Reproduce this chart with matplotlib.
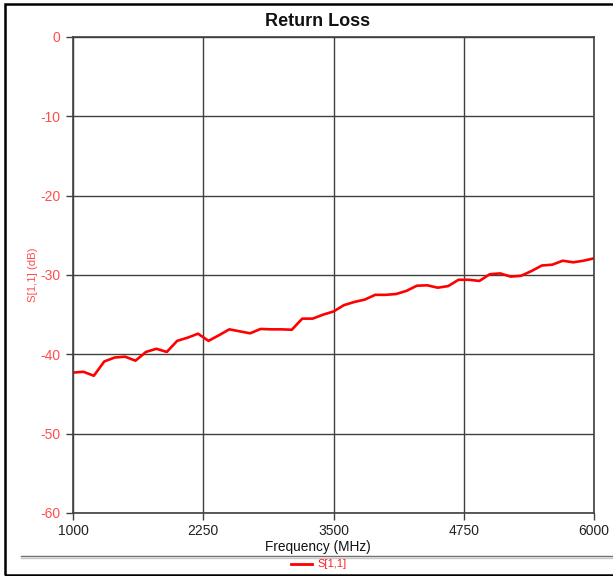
import matplotlib
matplotlib.use("Agg")
import matplotlib.pyplot as plt
from matplotlib.lines import Line2D
from matplotlib.patches import Rectangle

plt.rcParams['font.family'] = ['Liberation Sans', 'DejaVu Sans']
plt.rcParams['axes.unicode_minus'] = False

freq_mhz = list(range(1000, 6001, 100))
s11_db = [-42.3, -42.2, -42.7, -40.9, -40.4, -40.3, -40.8, -39.7, -39.3, -39.7,
          -38.3, -37.9, -37.4, -38.3, -37.6, -36.85, -37.1, -37.35, -36.8, -36.85,
          -36.85, -36.9, -35.5, -35.5, -35.0, -34.6, -33.8, -33.4, -33.1, -32.5,
          -32.5, -32.4, -32.0, -31.35, -31.3, -31.6, -31.4, -30.6, -30.6, -30.75,
          -29.9, -29.8, -30.2, -30.1, -29.5, -28.8, -28.7, -28.2, -28.4, -28.2,
          -27.9]
x_ticks = [1000, 2250, 3500, 4750, 6000]
y_ticks = [0, -10, -20, -30, -40, -50, -60]

W, H = 613, 576
fig = plt.figure(figsize=(W / 100, H / 100), dpi=100)

def fx(px):
    return px / W

def fy(py):
    return 1 - py / H

ax = fig.add_axes([fx(73), fy(513), (594 - 73) / W, (513 - 37) / H])
ax.plot(freq_mhz, s11_db, color='#ff0000', lw=1.9, solid_joinstyle='round')
ax.set_xlim(1000, 6000)
ax.set_ylim(-60, 0)
ax.set_xticks(x_ticks)
ax.set_yticks(y_ticks)
ax.grid(True, color='#404040', lw=1.0)
for s in ax.spines.values():
    s.set_color('#404040')
    s.set_linewidth(1.2)
ax.tick_params(axis='both', length=5, width=1, color='#404040', labelsize=10)
ax.tick_params(axis='y', labelcolor='#ff4d4d', pad=4)
ax.tick_params(axis='x', labelcolor='#222222', pad=3)
ax.set_axisbelow(True)

fig.text(fx(33), fy(275), 'S[1,1] (dB)', rotation=90, color='#ff4d4d',
         fontsize=8.2, ha='center', va='center')
fig.text(fx(318), fy(547), 'Frequency (MHz)', fontsize=9.8, color='#111111',
         ha='center', va='center')
fig.text(fx(318), fy(21), 'Return Loss', fontsize=13, fontweight='bold',
         ha='center', va='center', color='#111111')

# legend
fig.add_artist(Line2D([fx(291), fx(312)], [fy(564), fy(564)], color='#ff0000', lw=2.0))
fig.text(fx(317), fy(564), 'S[1,1]', color='#ff2020', fontsize=8, ha='left', va='center')

# separator line
fig.add_artist(Line2D([fx(21), fx(613)], [fy(556), fy(556)], color='#707070', lw=1.0))
fig.add_artist(Line2D([fx(21), fx(613)], [fy(557.5), fy(557.5)], color='#c8c8c8', lw=1.0))

# outer border
fig.add_artist(Rectangle((fx(5.5), fy(574.5)), fx(620) - fx(5.5), fy(4) - fy(574.5),
                         transform=fig.transFigure, fill=False, ec='black', lw=1.8))

fig.savefig('out.png', dpi=100)
